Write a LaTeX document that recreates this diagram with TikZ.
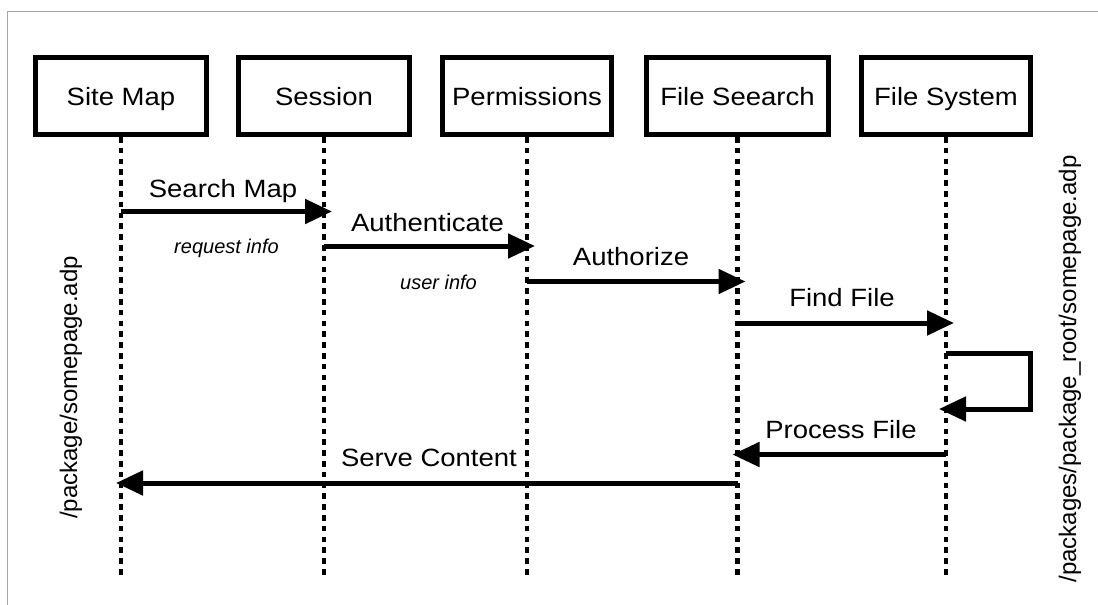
\documentclass[tikz,border=0pt]{standalone}
\usepackage{fontspec}
\setmainfont{Liberation Sans}
\newfontfamily\wideSans[FakeStretch=1.1]{Liberation Sans}
\usetikzlibrary{arrows.meta,calc}
\begin{document}
\begin{tikzpicture}[x=1pt,y=-1pt,
  lifebox/.style={draw, line width=5pt, minimum height=77pt, inner sep=0pt,
    text height=23pt, text depth=5pt,
    font=\wideSans\fontsize{25}{30}\selectfont},
  lifeline/.style={line width=4.6pt, dash pattern=on 5.5pt off 5.3pt},
  msg/.style={line width=5pt, miter limit=10, -{Triangle[length=27pt,width=24pt]}},
  msglabel/.style={anchor=base, inner sep=0pt, font=\wideSans\fontsize{25}{30}\selectfont},
  infotext/.style={anchor=base, inner sep=0pt, font=\itshape\fontsize{20}{24}\selectfont},
  pathtext/.style={anchor=base, inner sep=0pt, rotate=90, font=\fontsize{24}{28}\selectfont}
]
\useasboundingbox (0,0) rectangle (1098,605);
\draw[black!35, line width=1.5pt] (7.5,605) -- (7.5,11.5) -- (1098,11.5);

% participants
\node[lifebox, minimum width=171pt] (sm) at (121,96) {Site Map};
\node[lifebox, minimum width=171pt] (se) at (324,96) {Session};
\node[lifebox, minimum width=169pt] (pe) at (527,96) {Permissions};
\node[lifebox, minimum width=182pt] (fs) at (737.5,96) {File Seearch};
\node[lifebox, minimum width=169pt] (fy) at (946,96) {File System};

% lifelines
\coordinate (bot) at (0,575);
\foreach \p in {sm,se,pe,fs,fy}{
  \draw[lifeline] (\p.south) -- (\p.south |- bot);
}

% message levels
\coordinate (m1) at (0,211.5);
\coordinate (m2) at (0,246);
\coordinate (m3) at (0,281.5);
\coordinate (m4) at (0,323);
\coordinate (l1) at (0,353);
\coordinate (l2) at (0,409);
\coordinate (m5) at (0,454.5);
\coordinate (m6) at (0,483);
\coordinate (lr) at (1030.5,0);

\draw[msg] (sm.south |- m1) -- ($(se.south |- m1)+(8,0)$);
\draw[msg] (se.south |- m2) -- ($(pe.south |- m2)+(8,0)$);
\draw[msg] (pe.south |- m3) -- ($(fs.south |- m3)+(8,0)$);
\draw[msg] (fs.south |- m4) -- ($(fy.south |- m4)+(8,0)$);
\draw[msg] (fy.south |- l1) -- (lr |- l1) -- (lr |- l2) -- ($(fy.south |- l2)+(-7,0)$);
\draw[msg] (fy.south |- m5) -- ($(fs.south |- m5)+(-5,0)$);
\draw[msg] (fs.south |- m6) -- ($(sm.south |- m6)+(-5,0)$);

% labels
\node[msglabel] (t1) at (223,197.3) {Search Map};
\node[msglabel] (t2) at (427.5,231) {Authenticate};
\node[msglabel] (t3) at (631,265) {Authorize};
\node[msglabel] (t4) at (842,306) {Find File};
\node[msglabel] (t5) at (841,438.3) {Process File};
\node[msglabel] (t6) at (429,466.7) {Serve Content};
\node[infotext] (i1) at (226.5,253.3) {request info};
\node[infotext] (i2) at (438.5,289) {user info};

\node[pathtext] (p1) at (77,387.5) {/package/somepage.adp};
\node[pathtext] (p2) at (1076,369) {/packages/package\_root/somepage.adp};
\end{tikzpicture}
\end{document}
